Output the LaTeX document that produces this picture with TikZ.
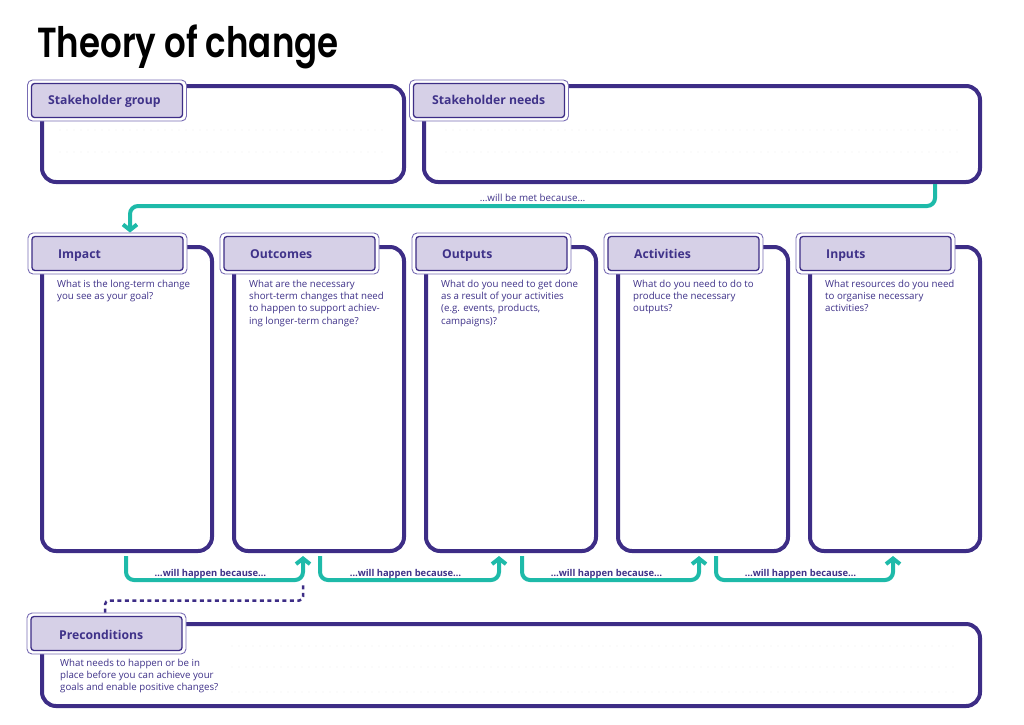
\documentclass[tikz,border=0pt]{standalone}
\usepackage{fontspec}
\setmainfont{Open Sans}
\newfontfamily\titlefont{Poppins}[UprightFont=* SemiBold]
\usetikzlibrary{arrows.meta}

\definecolor{boxline}{RGB}{61,45,134}
\definecolor{tabcol}{RGB}{214,208,231}
\definecolor{tabedge}{RGB}{120,108,180}
\definecolor{tealline}{RGB}{30,186,169}
\definecolor{inkpurple}{RGB}{63,50,137}
\definecolor{dotgrey}{RGB}{212,212,212}

\tikzset{
  bigbox/.style={draw=boxline, line width=4pt, rounded corners=14pt, fill=white, inner sep=0pt},
  tabframe/.style={draw=tabedge, line width=0.9pt, fill=white, rounded corners=5pt, minimum width=159pt, minimum height=41pt, inner sep=0pt},
  tabinner/.style={draw=boxline, line width=1.3pt, fill=tabcol, rounded corners=3pt, minimum width=151pt, minimum height=34pt, inner sep=0pt},
  tabtitle/.style={anchor=base west, inner sep=0pt, text=inkpurple, font=\fontsize{12.2}{14}\selectfont\bfseries},
  question/.style={anchor=north west, inner sep=0pt, align=left, text=inkpurple, font=\fontsize{9.7}{12.2}\selectfont},
  becauseline/.style={draw=tealline, line width=4pt, rounded corners=8pt, -{Straight Barb[length=5.5pt,width=14pt]}},
  becausetext/.style={anchor=base, inner sep=0pt, xshift=-4pt, yshift=4pt, text=inkpurple, font=\fontsize{9.4}{11}\selectfont\bfseries},
  guideline/.style={draw=dotgrey, line width=0.9pt, line cap=round, dash pattern=on 0pt off 7pt},
  preline/.style={draw=boxline, line width=2.5pt, dash pattern=on 4pt off 3.5pt, rounded corners=4pt}
}

\begin{document}
\begin{tikzpicture}[x=1pt, y=-1pt]

    \useasboundingbox (0,0) rectangle (1024,724);

    \node[anchor=base west, inner sep=0pt, font=\titlefont\fontsize{42}{42}\selectfont] (title) at (37,57) {\scalebox{0.81}[1]{Theory of change}};

    \node[bigbox, minimum width=362pt, minimum height=96pt] (group) at (223,134) {};
    \node[bigbox, minimum width=556pt, minimum height=96pt] (needs) at (702,134) {};

    \draw[guideline] (60,130) -- (385,130);
    \draw[guideline] (60,152) -- (385,152);
    \draw[guideline] (446,130) -- (959,130);
    \draw[guideline] (446,152) -- (959,152);

    \node[tabframe] (grouptab) at (107,100.5) {};
    \node[tabinner] at (grouptab) {};
    \node[tabtitle] (grouptitle) at (48,104) {Stakeholder group};

    \node[tabframe] (needstab) at (489,100.5) {};
    \node[tabinner] at (needstab) {};
    \node[tabtitle] (needstitle) at (432,104) {Stakeholder needs};

    \foreach \name/\x/\title in {impact/42/Impact, outcomes/234/Outcomes, outputs/426/Outputs, activities/618/Activities, inputs/810/Inputs} {
        \node[bigbox, minimum width=170pt, minimum height=304pt] (\name) at (\x+85,399) {};
        \node[tabframe] (\name tab) at (\x+65.5,253.5) {};
        \node[tabinner] at (\name tab) {};
        \node[tabtitle] (\name title) at (\x+16,258) {\title};
    }

    \node[question] (impactq) at (57,280) {What is the long-term change\\you see as your goal?};
    \node[question] (outcomesq) at (249,280) {What are the necessary\\short-term changes that need\\to happen to support achiev-\\ing longer-term change?};
    \node[question] (outputsq) at (441,280) {What do you need to get done\\as a result of your activities\\(e.g. events, products,\\campaigns)?};
    \node[question] (activitiesq) at (633,280) {What do you need to do to\\produce the necessary\\outputs?};
    \node[question] (inputsq) at (825,280) {What resources do you need\\to organise necessary\\activities?};

    \node[bigbox, minimum width=938pt, minimum height=82pt] (precond) at (511,665) {};

    \draw[guideline] (232,646) -- (957,646);
    \draw[guideline] (232,667) -- (957,667);
    \draw[guideline] (232,692) -- (957,692);

    \node[tabframe] (precondtab) at (106.5,633.5) {};
    \node[tabinner] at (precondtab) {};
    \node[tabtitle] (precondtitle) at (59,639) {Preconditions};
    \node[question] (precondq) at (60,658.6) {What needs to happen or be in\\place before you can achieve your\\goals and enable positive changes?};

    \draw[becauseline] ([xshift=-47pt]needs.south east) -- ++(0,22)
        -| node[becausetext, pos=0.25, xshift=4pt, yshift=1pt, font=\fontsize{9.8}{11}\selectfont] {…will be met because…} ([xshift=22.5pt]impacttab.north);

    \draw[becauseline] ([xshift=86pt,yshift=-3pt]impact.south west) -- ++(0,24)
        -| node[becausetext, pos=0.25] {…will happen because…} ([xshift=71pt,yshift=-3pt]outcomes.south west);
    \draw[becauseline] ([xshift=88pt,yshift=-3pt]outcomes.south west) -- ++(0,24)
        -| node[becausetext, pos=0.25] {…will happen because…} ([xshift=75pt,yshift=-3pt]outputs.south west);
    \draw[becauseline] ([xshift=98pt,yshift=-3pt]outputs.south west) -- ++(0,24)
        -| node[becausetext, pos=0.25] {…will happen because…} ([xshift=83pt,yshift=-3pt]activities.south west);
    \draw[becauseline] ([xshift=100pt,yshift=-3pt]activities.south west) -- ++(0,24)
        -| node[becausetext, pos=0.25] {…will happen because…} ([xshift=85pt,yshift=-3pt]inputs.south west);

    \draw[preline] ([xshift=-1.5pt]precondtab.north) -- ++(0,-12) -| ([xshift=71pt,yshift=-29pt]outcomes.south west);

\end{tikzpicture}
\end{document}
